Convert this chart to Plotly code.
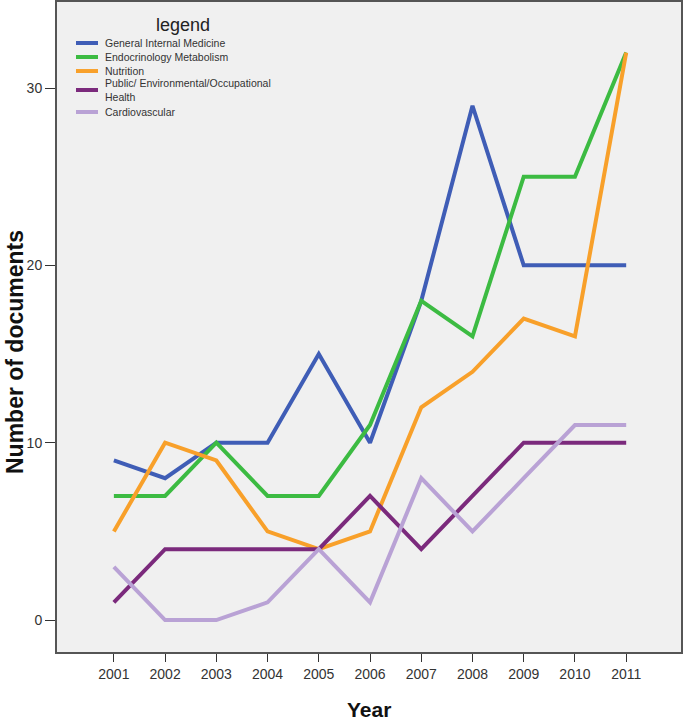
import plotly.graph_objects as go

years = [2001, 2002, 2003, 2004, 2005, 2006, 2007, 2008, 2009, 2010, 2011]
general_internal = [9, 8, 10, 10, 15, 10, 18, 29, 20, 20, 20]
endocrinology = [7, 7, 10, 7, 7, 11, 18, 16, 25, 25, 32]
nutrition = [5, 10, 9, 5, 4, 5, 12, 14, 17, 16, 32]
public_health = [1, 4, 4, 4, 4, 7, 4, 7, 10, 10, 10]
cardiovascular = [3, 0, 0, 1, 4, 1, 8, 5, 8, 11, 11]

series_names = ["General Internal Medicine", "Endocrinology Metabolism", "Nutrition",
                "Public/ Environmental/Occupational<br>Health", "Cardiovascular"]
series_values = [general_internal, endocrinology, nutrition, public_health, cardiovascular]
series_colors = ["#3f5db6", "#3cbb42", "#f8a02a", "#7b2a7c", "#b9a2d5"]

fig = go.Figure()
for name, vals, color in zip(series_names, series_values, series_colors):
    fig.add_trace(go.Scatter(x=years, y=vals, mode="lines", name=name,
                             line=dict(color=color, width=4), showlegend=False))

# Manual legend (compact, like the original)
legend_y = [0.9369, 0.9154, 0.8938, 0.8646, 0.8308]
for name, color, ly in zip(series_names, series_colors, legend_y):
    fig.add_shape(type="line", xref="paper", yref="paper",
                  x0=0.0304, x1=0.0657, y0=ly, y1=ly,
                  line=dict(color=color, width=4))
    fig.add_annotation(xref="paper", yref="paper", x=0.0737, y=ly,
                       xanchor="left", yanchor="middle", align="left",
                       text=name, showarrow=False,
                       font=dict(size=10.5, color="#333", family="Liberation Sans, Arial"))
fig.add_annotation(xref="paper", yref="paper", x=0.2019, y=0.9646,
                   xanchor="center", yanchor="middle", text="legend", showarrow=False,
                   font=dict(size=18, color="#222", family="Liberation Sans, Arial"))

# Axis titles
fig.add_annotation(xref="paper", yref="paper", x=0.5, y=-0.0892,
                   xanchor="center", yanchor="middle", text="<b>Year</b>", showarrow=False,
                   font=dict(size=21, color="#111", family="Liberation Sans, Arial"))
fig.add_annotation(xref="paper", yref="paper", x=-0.0673, y=0.4615,
                   xanchor="center", yanchor="middle", text="<b>Number of documents</b>",
                   showarrow=False, textangle=-90,
                   font=dict(size=23, color="#111", family="Liberation Sans, Arial"))

fig.update_layout(
    width=685, height=720,
    margin=dict(l=57, r=4, t=2, b=68),
    paper_bgcolor="white",
    plot_bgcolor="#f0f0f0",
    font=dict(family="Liberation Sans, Arial", color="#222"),
    showlegend=False,
    xaxis=dict(
        range=[1999.89, 2012.07],
        tickvals=years,
        ticktext=[str(y) for y in years],
        ticks="outside", ticklen=8, tickcolor="#333", tickwidth=1,
        showgrid=False, zeroline=False, automargin=False,
        showline=True, linecolor="#555", linewidth=2, mirror=True,
        tickfont=dict(size=14, color="#333"),
    ),
    yaxis=dict(
        range=[-1.8, 34.85],
        tickvals=[0, 10, 20, 30],
        ticks="outside", ticklen=10, tickcolor="#333", tickwidth=1,
        showgrid=False, zeroline=False, automargin=False,
        showline=True, linecolor="#555", linewidth=2, mirror=True,
        tickfont=dict(size=14, color="#333"),
    ),
)

fig.write_html("out.html",
               config={"displayModeBar": False},
               post_script="document.body.style.margin='0';document.body.style.overflow='hidden';")
